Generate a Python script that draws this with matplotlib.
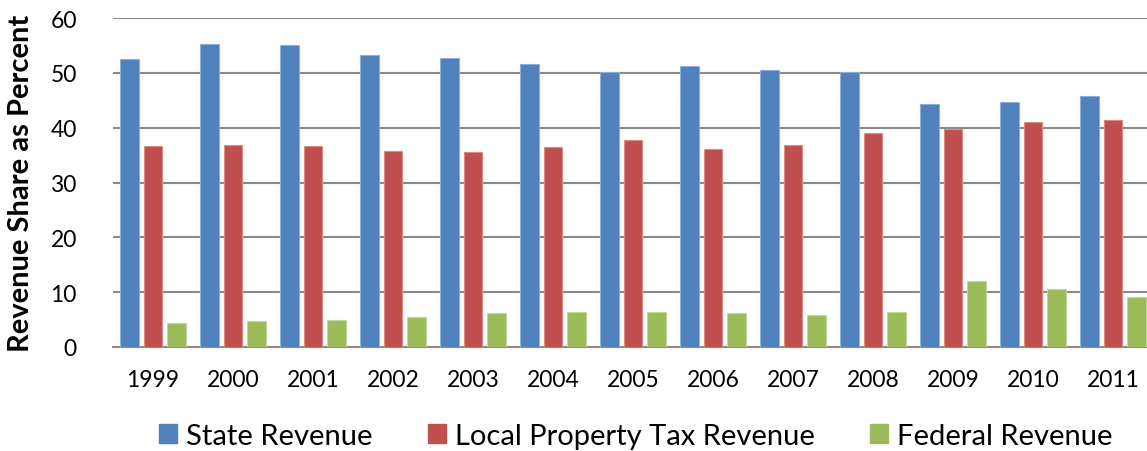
import matplotlib.pyplot as plt
import matplotlib.patches as mpatches
import numpy as np

plt.rcParams['font.family'] = ['Lato', 'DejaVu Sans']

years = ['1999', '2000', '2001', '2002', '2003', '2004', '2005',
         '2006', '2007', '2008', '2009', '2010', '2011']
state_rev = [52.5, 55.2, 55.1, 53.3, 52.7, 51.6, 50.2, 51.3, 50.6, 50.1, 44.4, 44.7, 45.8]
local_rev = [36.7, 36.8, 36.7, 35.7, 35.6, 36.5, 37.7, 36.2, 36.8, 39.1, 39.8, 41.1, 41.4]
federal_rev = [4.4, 4.7, 5.0, 5.5, 6.2, 6.4, 6.3, 6.2, 5.9, 6.4, 12.0, 10.5, 9.2]

series_names = ['State Revenue', 'Local Property Tax Revenue', 'Federal Revenue']
colors = ['#4F81BD', '#C0504D', '#9BBB59']
edges = ['#8FAFD8', '#DA8A88', '#C2D89A']

W, H = 1147, 452
fig = plt.figure(figsize=(W / 100, H / 100), dpi=100)
# plot area runs past the right edge of the picture, like the original
ax = fig.add_axes([113 / W, 104 / H, 1040 / W, 329 / H])

x = np.arange(len(years))
width = 0.235
offsets = [-0.29, 0.0, 0.29]
for vals, off, c, ec in zip([state_rev, local_rev, federal_rev], offsets, colors, edges):
    ax.bar(x + off, vals, width, color=c, edgecolor=ec, linewidth=0.8, zorder=3)

ax.set_xlim(-0.5, len(years) - 0.5)
ax.set_ylim(0, 60)
ax.set_yticks(range(0, 61, 10))
ax.set_xticks(x)
ax.set_xticklabels(years)
ax.yaxis.grid(True, color='#8A8A8A', linewidth=1.5, zorder=0)
ax.set_axisbelow(True)
for s in ['top', 'right', 'left']:
    ax.spines[s].set_visible(False)
ax.spines['bottom'].set_color('#8A8A8A')
ax.spines['bottom'].set_linewidth(1.5)
ax.tick_params(axis='both', length=0, labelsize=16.5, colors='black')
ax.tick_params(axis='y', pad=26)
ax.tick_params(axis='x', pad=16)

ax.set_ylabel('Revenue Share as Percent', fontsize=21, fontweight='bold', labelpad=12)

handles = [mpatches.Patch(color=c) for c in colors]
fig.legend(handles, series_names, loc='center', bbox_to_anchor=(636 / W, 1 - 437 / H),
           ncol=3, frameon=False, fontsize=21, handlelength=0.62, handleheight=0.62,
           handletextpad=0.3, columnspacing=1.9, borderaxespad=0)

fig.savefig('out.png', dpi=100)
